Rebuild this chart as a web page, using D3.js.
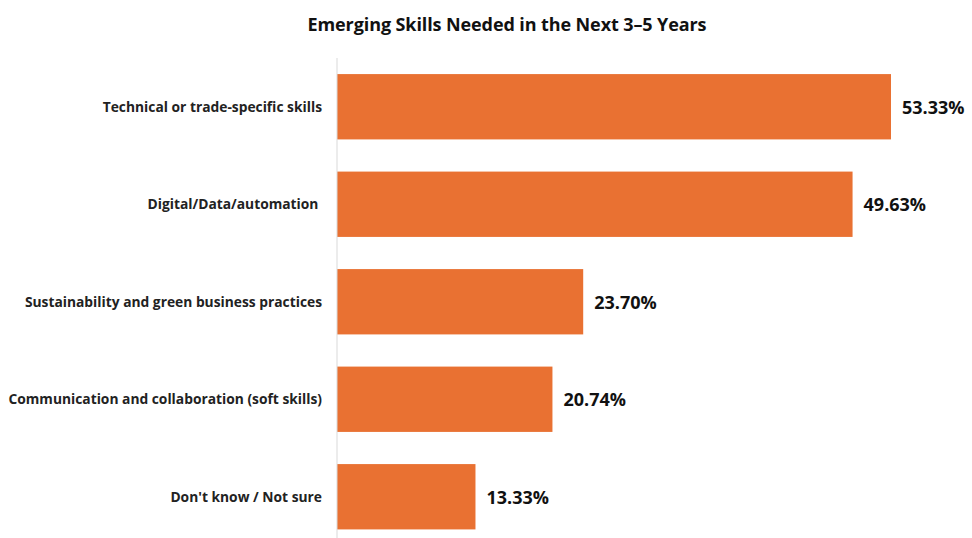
<!DOCTYPE html>
<html>
<head>
<meta charset="utf-8">
<script src="https://cdn.jsdelivr.net/npm/d3@7"></script>
<style>
  html, body { margin: 0; padding: 0; background: #fff; }
  svg { display: block; }
</style>
</head>
<body>
<svg id="chart" width="972" height="538"></svg>
<script>
// Survey responses: share of respondents naming each skill area
const categories = [
  "Technical or trade-specific skills",
  "Digital/Data/automation ",
  "Sustainability and green business practices",
  "Communication and collaboration (soft skills)",
  "Don't know / Not sure"
];
const values = [53.33, 49.63, 23.70, 20.74, 13.33];
const chartTitle = "Emerging Skills Needed in the Next 3\u20135 Years";

const svg = d3.select("#chart");
const W = 972, H = 538;
const left = 337;
const font = "'Open Sans', Lato, sans-serif";

const x = d3.scaleLinear().domain([0, 53.33]).range([left, 891]);
const y = d3.scaleBand().domain(categories).range([58, 545.5]).paddingInner(0.33).paddingOuter(0.165);

svg.append("text")
  .attr("x", 507).attr("y", 31)
  .attr("text-anchor", "middle")
  .style("font-family", font)
  .style("font-weight", "700")
  .style("font-size", "18px")
  .style("letter-spacing", "-0.1px")
  .attr("fill", "#111")
  .text(chartTitle);

svg.selectAll("rect.bar")
  .data(values)
  .join("rect")
  .attr("class", "bar")
  .attr("x", x(0))
  .attr("y", (d, i) => y(categories[i]))
  .attr("width", d => x(d) - x(0))
  .attr("height", y.bandwidth())
  .attr("fill", "#E97132");

// vertical category axis line
svg.append("line")
  .attr("x1", left).attr("x2", left)
  .attr("y1", 58).attr("y2", H)
  .attr("stroke", "#d9d9d9").attr("stroke-width", 1);

svg.selectAll("text.cat")
  .data(categories)
  .join("text")
  .attr("class", "cat")
  .attr("x", 322)
  .attr("y", d => y(d) + y.bandwidth() / 2)
  .attr("dy", "0.35em")
  .attr("text-anchor", "end")
  .style("font-family", font)
  .style("font-weight", "700")
  .style("font-size", "13.8px")
  .style("white-space", "pre")
  .attr("fill", "#222")
  .text(d => d);

svg.selectAll("text.val")
  .data(values)
  .join("text")
  .attr("class", "val")
  .attr("x", d => x(d) + 11)
  .attr("y", (d, i) => y(categories[i]) + y.bandwidth() / 2)
  .attr("dy", "0.38em")
  .style("font-family", font)
  .style("font-weight", "700")
  .style("font-size", "18px")
  .attr("fill", "#111")
  .text(d => d.toFixed(2) + "%");
</script>
</body>
</html>
